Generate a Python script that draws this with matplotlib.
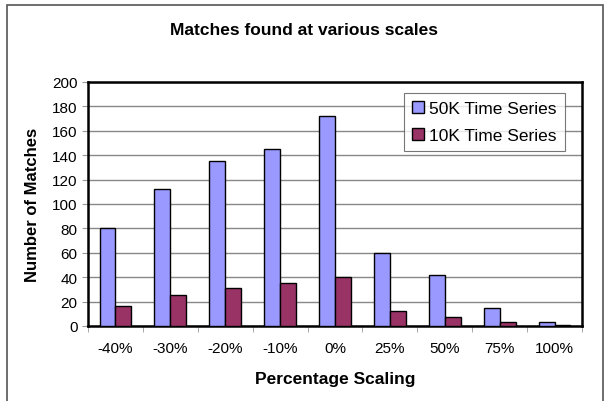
import numpy as np
import matplotlib
matplotlib.use("Agg")
import matplotlib.pyplot as plt
from matplotlib.patches import Rectangle

plt.rcParams['font.family'] = ['Liberation Sans', 'DejaVu Sans']

categories = ["-40%", "-30%", "-20%", "-10%", "0%", "25%", "50%", "75%", "100%"]
series_50k = [80, 112, 135, 145, 172, 60, 42, 15, 3]
series_10k = [16, 25, 31, 35, 40, 12, 7, 3, 1]

fig = plt.figure(figsize=(6.08, 4.02), dpi=100)
ax = fig.add_axes([0.1447, 0.1866, 0.8125, 0.607])

# outer chart border
fig.patches.append(Rectangle((7 / 608, -0.01), 596 / 608, 1 - 6 / 402 + 0.01,
                             transform=fig.transFigure, fill=False,
                             edgecolor="#555555", linewidth=1.2))

x = np.arange(len(categories))
w = 0.29
ax.bar(x - w / 2, series_50k, w, color="#9999FF", edgecolor="black",
       linewidth=1.0, label="50K Time Series", zorder=3)
ax.bar(x + w / 2, series_10k, w, color="#993366", edgecolor="black",
       linewidth=1.0, label="10K Time Series", zorder=3)

ax.set_xlim(-0.5, len(categories) - 0.5)
ax.set_ylim(0, 200)
ax.set_yticks(np.arange(0, 201, 20))
ax.yaxis.grid(True, color="#888888", linewidth=1.0, zorder=0)
ax.set_axisbelow(True)

ax.set_xticks(x)
ax.set_xticklabels(categories, fontsize=11)
ax.set_xticks(np.arange(-0.5, len(categories), 1), minor=True)
ax.tick_params(axis="x", which="major", length=0, pad=11)
ax.tick_params(axis="x", which="minor", length=4, color="#999999")
ax.tick_params(axis="y", length=4, color="#999999", labelsize=11)

for s in ax.spines.values():
    s.set_linewidth(1.8)
    s.set_color("black")

ax.set_xlabel("Percentage Scaling", fontsize=12.5, fontweight="bold", labelpad=11)
ax.set_ylabel("Number of Matches", fontsize=12, fontweight="bold", labelpad=9)
fig.text(0.5, 0.913, "Matches found at various scales", ha="center",
         fontsize=12.5, fontweight="bold")

leg = ax.legend(loc="upper right", bbox_to_anchor=(0.965, 0.955), fontsize=12.5,
                frameon=True, fancybox=False, edgecolor="#555555",
                handlelength=0.7, handleheight=0.7, handletextpad=0.3,
                borderpad=0.45, labelspacing=0.7, borderaxespad=0)
leg.get_frame().set_linewidth(0.8)
leg.set_zorder(5)

fig.savefig("out.png", dpi=100)
